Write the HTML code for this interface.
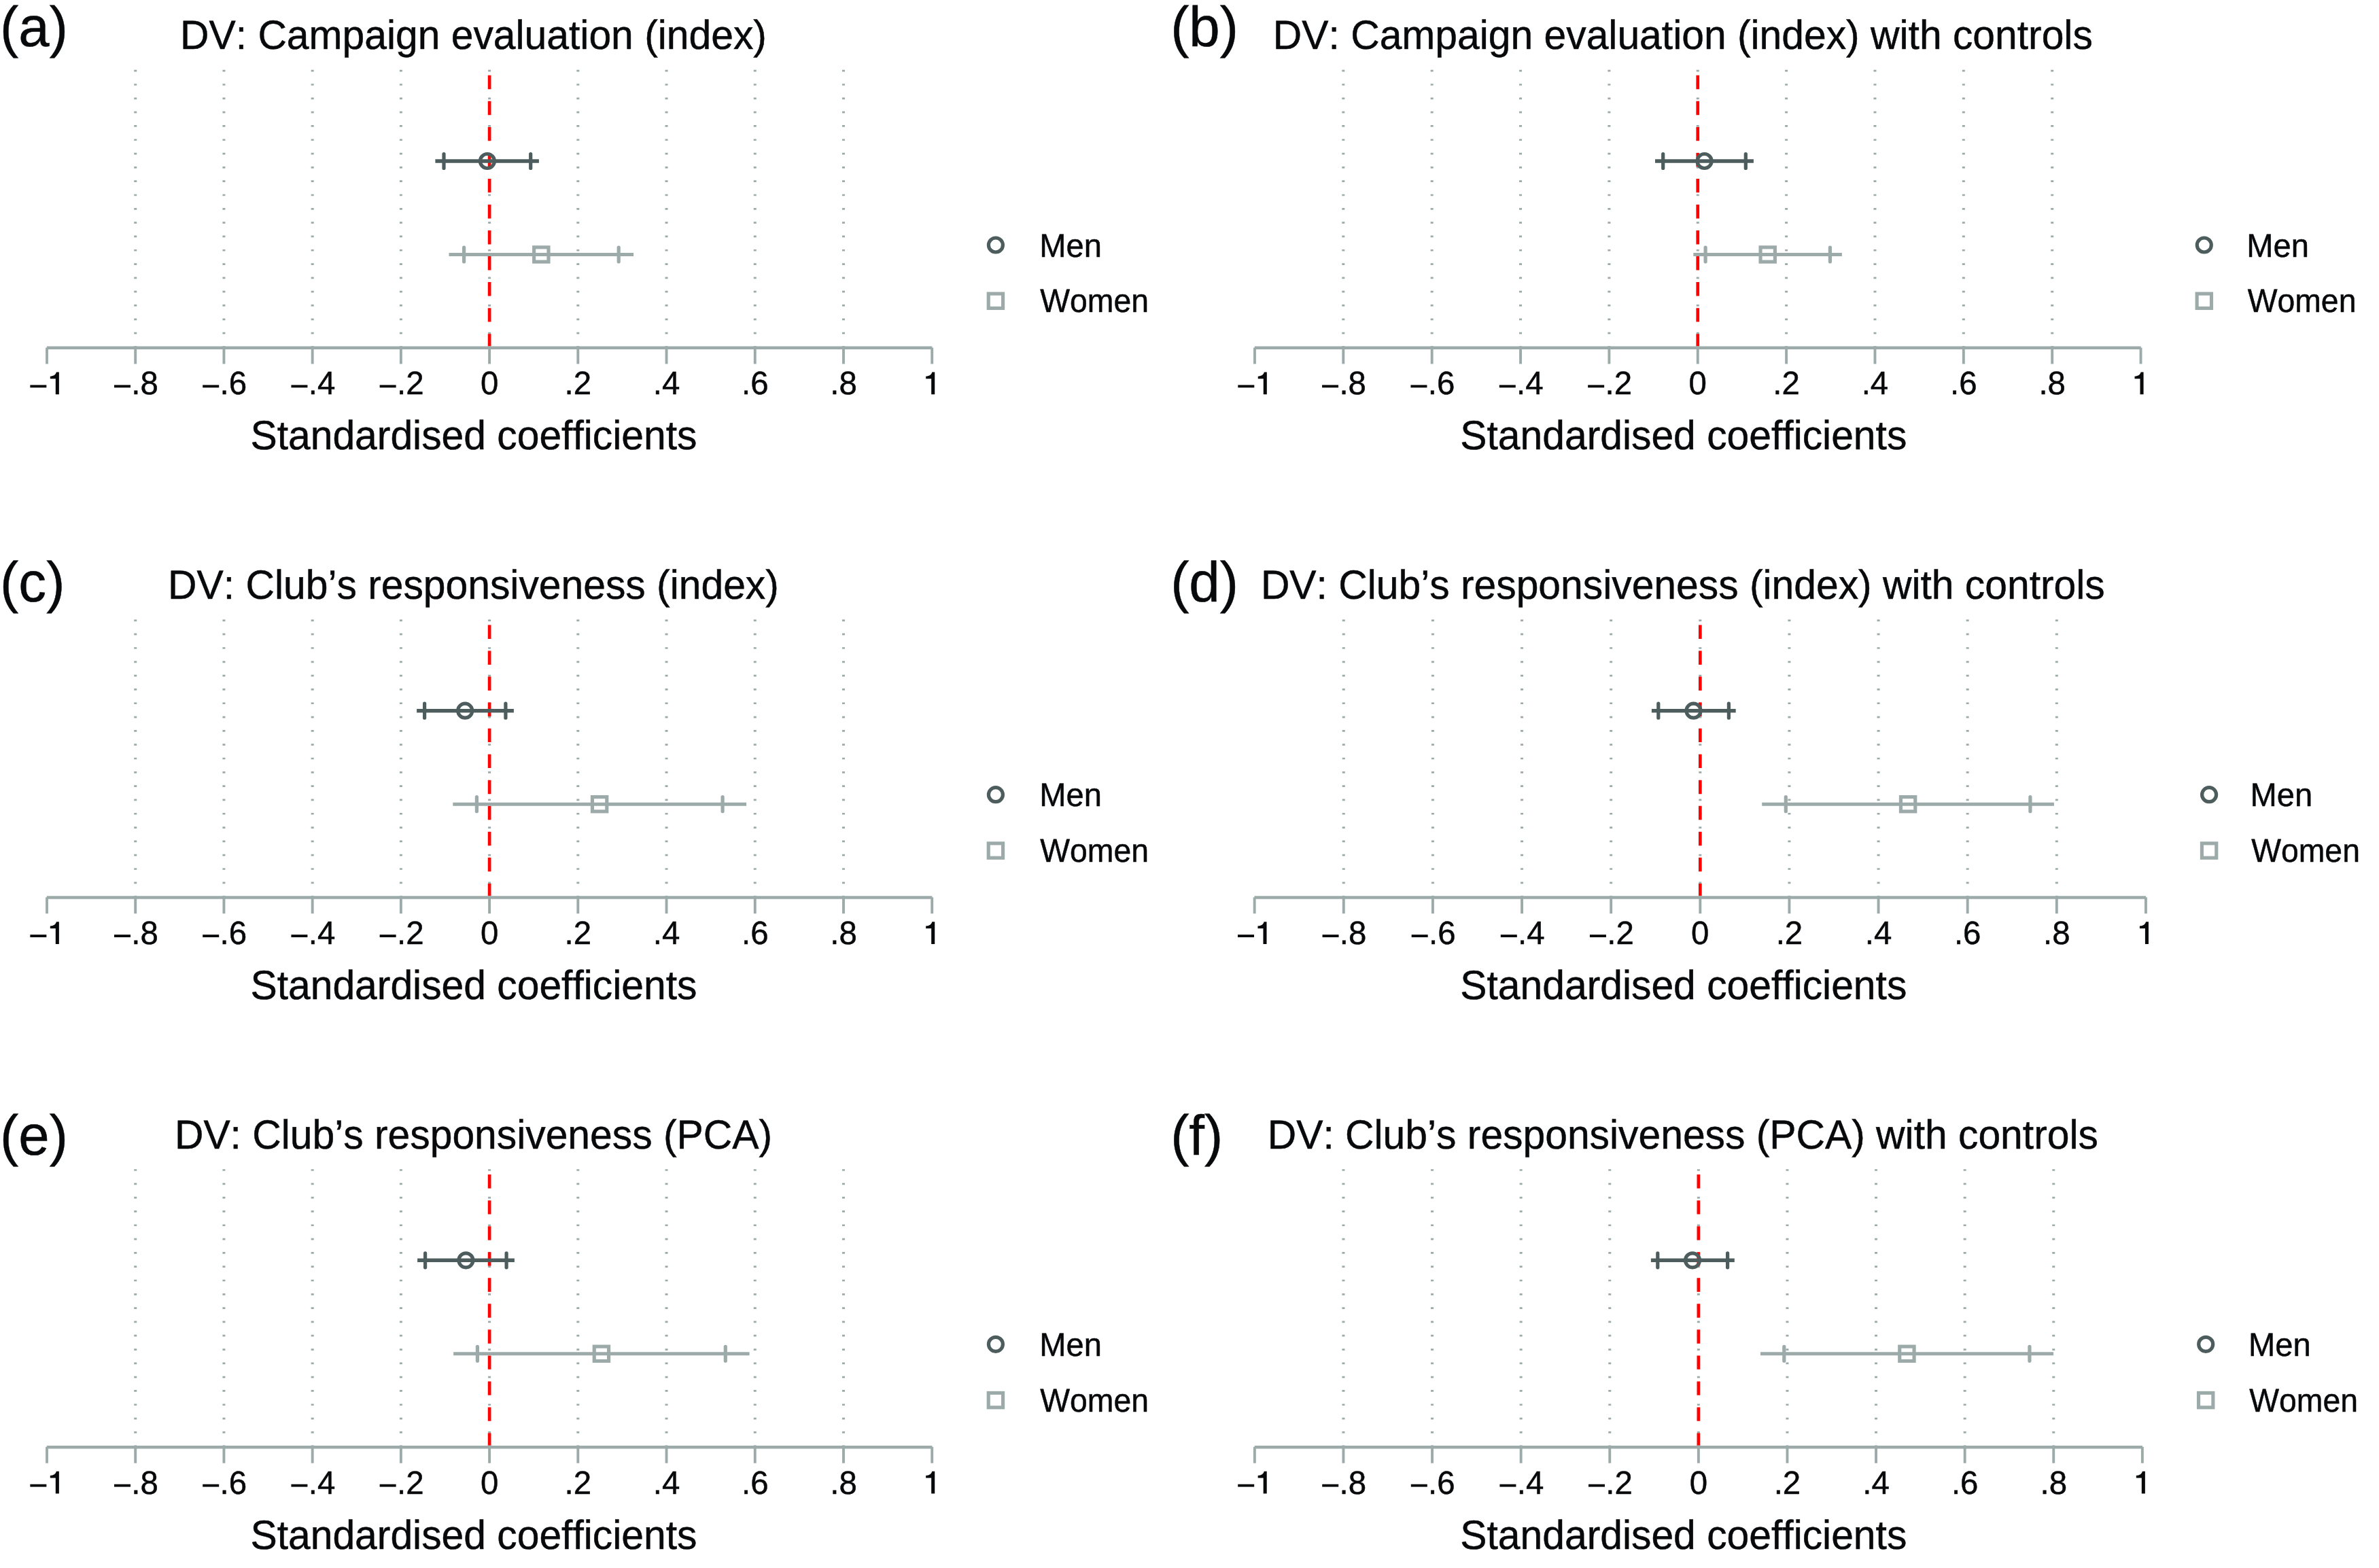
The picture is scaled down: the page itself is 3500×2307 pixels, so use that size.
<!DOCTYPE html>
<html lang="en"><head><meta charset="utf-8"><title>Standardised coefficients by gender</title>
<style>html,body{margin:0;padding:0;background:#fff}body{width:3500px;height:2307px;overflow:hidden}svg{display:block;will-change:opacity;opacity:.999;font-family:"Liberation Sans",sans-serif;font-kerning:none;font-variant-ligatures:none;text-rendering:geometricPrecision;fill:#08090b}text{stroke:#08090b;stroke-width:.5px}</style></head><body>
<svg width="3500" height="2307" viewBox="0 0 3500 2307" role="img" aria-label="Six coefficient plots of standardised coefficients for men and women">
<g><!-- panel (a) -->
<text transform="translate(0.12 68.2) scale(0.984 1)" font-size="83">(a)</text>
<text transform="translate(265.03 72.3) scale(0.98 1)" font-size="60">DV: Campaign evaluation (index)</text>
<line x1="199.22" y1="102.85" x2="199.22" y2="492" stroke="#9cabaa" stroke-width="4" stroke-dasharray="2.7 17.61"/>
<line x1="329.44" y1="102.85" x2="329.44" y2="492" stroke="#9cabaa" stroke-width="4" stroke-dasharray="2.7 17.61"/>
<line x1="459.66" y1="102.85" x2="459.66" y2="492" stroke="#9cabaa" stroke-width="4" stroke-dasharray="2.7 17.61"/>
<line x1="589.88" y1="102.85" x2="589.88" y2="492" stroke="#9cabaa" stroke-width="4" stroke-dasharray="2.7 17.61"/>
<line x1="720.1" y1="102.85" x2="720.1" y2="492" stroke="#9cabaa" stroke-width="4" stroke-dasharray="2.7 17.61"/>
<line x1="850.32" y1="102.85" x2="850.32" y2="492" stroke="#9cabaa" stroke-width="4" stroke-dasharray="2.7 17.61"/>
<line x1="980.54" y1="102.85" x2="980.54" y2="492" stroke="#9cabaa" stroke-width="4" stroke-dasharray="2.7 17.61"/>
<line x1="1110.76" y1="102.85" x2="1110.76" y2="492" stroke="#9cabaa" stroke-width="4" stroke-dasharray="2.7 17.61"/>
<line x1="1240.98" y1="102.85" x2="1240.98" y2="492" stroke="#9cabaa" stroke-width="4" stroke-dasharray="2.7 17.61"/>
<line x1="720.1" y1="110.8" x2="720.1" y2="509.6" stroke="#ff0000" stroke-width="4.7" stroke-dasharray="20.4 17.64"/>
<line x1="68.8" y1="511.85" x2="1371.4" y2="511.85" stroke="#9cabaa" stroke-width="4.5"/>
<line x1="69" y1="511.55" x2="69" y2="535.45" stroke="#9cabaa" stroke-width="3.9"/>
<line x1="199.22" y1="509.1" x2="199.22" y2="535.45" stroke="#9cabaa" stroke-width="3.9"/>
<line x1="329.44" y1="509.1" x2="329.44" y2="535.45" stroke="#9cabaa" stroke-width="3.9"/>
<line x1="459.66" y1="509.1" x2="459.66" y2="535.45" stroke="#9cabaa" stroke-width="3.9"/>
<line x1="589.88" y1="509.1" x2="589.88" y2="535.45" stroke="#9cabaa" stroke-width="3.9"/>
<line x1="720.1" y1="509.1" x2="720.1" y2="535.45" stroke="#9cabaa" stroke-width="3.9"/>
<line x1="850.32" y1="509.1" x2="850.32" y2="535.45" stroke="#9cabaa" stroke-width="3.9"/>
<line x1="980.54" y1="509.1" x2="980.54" y2="535.45" stroke="#9cabaa" stroke-width="3.9"/>
<line x1="1110.76" y1="509.1" x2="1110.76" y2="535.45" stroke="#9cabaa" stroke-width="3.9"/>
<line x1="1240.98" y1="509.1" x2="1240.98" y2="535.45" stroke="#9cabaa" stroke-width="3.9"/>
<line x1="1371.2" y1="511.55" x2="1371.2" y2="535.45" stroke="#9cabaa" stroke-width="3.9"/>
<rect x="44.35" y="566.43" width="24" height="3.86"/><path d="M86.86 547.5V580.3H81.81V557.3H73.81V553.7C79.16 553.3 81.96 551.5 82.86 547.5Z"/>
<rect x="167.98" y="566.43" width="24" height="3.86"/><text transform="translate(193.3 580.3) scale(0.9875 1)" font-size="48">.8</text>
<rect x="298.2" y="566.43" width="24" height="3.86"/><text transform="translate(323.51 580.3) scale(0.9875 1)" font-size="48">.6</text>
<rect x="428.42" y="566.43" width="24" height="3.86"/><text transform="translate(453.74 580.3) scale(0.9875 1)" font-size="48">.4</text>
<rect x="558.64" y="566.43" width="24" height="3.86"/><text transform="translate(583.96 580.3) scale(0.9875 1)" font-size="48">.2</text>
<text transform="translate(706.92 580.3) scale(0.9875 1)" font-size="48">0</text>
<text transform="translate(830.55 580.3) scale(0.9875 1)" font-size="48">.2</text>
<text transform="translate(960.77 580.3) scale(0.9875 1)" font-size="48">.4</text>
<text transform="translate(1090.99 580.3) scale(0.9875 1)" font-size="48">.6</text>
<text transform="translate(1221.21 580.3) scale(0.9875 1)" font-size="48">.8</text>
<path d="M1375.22 547.5V580.3H1370.17V557.3H1362.17V553.7C1367.52 553.3 1370.32 551.5 1371.22 547.5Z"/>
<text transform="translate(368.45 661.4) scale(0.98 1)" font-size="60">Standardised coefficients</text>
<line x1="640.4" y1="237" x2="792.9" y2="237" stroke="#4d5c5c" stroke-width="5.5"/>
<line x1="653" y1="226.5" x2="653" y2="247.5" stroke="#4d5c5c" stroke-width="5.2" stroke-linecap="round"/>
<line x1="780.7" y1="226.5" x2="780.7" y2="247.5" stroke="#4d5c5c" stroke-width="5.2" stroke-linecap="round"/>
<circle cx="716.9" cy="237" r="10.5" fill="none" stroke="#4d5c5c" stroke-width="5.2"/>
<line x1="660.5" y1="374.5" x2="932.1" y2="374.5" stroke="#9cabaa" stroke-width="5.1"/>
<line x1="682.6" y1="364" x2="682.6" y2="385" stroke="#9cabaa" stroke-width="5.2" stroke-linecap="round"/>
<line x1="910.2" y1="364" x2="910.2" y2="385" stroke="#9cabaa" stroke-width="5.2" stroke-linecap="round"/>
<rect x="785.63" y="363.83" width="21.35" height="21.35" fill="none" stroke="#9cabaa" stroke-width="5.15"/>
<circle cx="1464.9" cy="360.5" r="10.5" fill="none" stroke="#4d5c5c" stroke-width="5.2"/>
<rect x="1454.23" y="432.13" width="21.35" height="21.35" fill="none" stroke="#9cabaa" stroke-width="5.15"/>
<text transform="translate(1529.3 377.5) scale(0.972 1)" font-size="48.5">Men</text>
<text transform="translate(1530.3 459.2) scale(0.956 1)" font-size="48.5">Women</text>
</g>
<g><!-- panel (b) -->
<text transform="translate(1722.15 68.2) scale(0.984 1)" font-size="83">(b)</text>
<text transform="translate(1872.83 72.3) scale(0.98 1)" font-size="60">DV: Campaign evaluation (index) with controls</text>
<line x1="1976.31" y1="102.85" x2="1976.31" y2="492" stroke="#9cabaa" stroke-width="4" stroke-dasharray="2.7 17.61"/>
<line x1="2106.67" y1="102.85" x2="2106.67" y2="492" stroke="#9cabaa" stroke-width="4" stroke-dasharray="2.7 17.61"/>
<line x1="2237.03" y1="102.85" x2="2237.03" y2="492" stroke="#9cabaa" stroke-width="4" stroke-dasharray="2.7 17.61"/>
<line x1="2367.39" y1="102.85" x2="2367.39" y2="492" stroke="#9cabaa" stroke-width="4" stroke-dasharray="2.7 17.61"/>
<line x1="2497.75" y1="102.85" x2="2497.75" y2="492" stroke="#9cabaa" stroke-width="4" stroke-dasharray="2.7 17.61"/>
<line x1="2628.11" y1="102.85" x2="2628.11" y2="492" stroke="#9cabaa" stroke-width="4" stroke-dasharray="2.7 17.61"/>
<line x1="2758.47" y1="102.85" x2="2758.47" y2="492" stroke="#9cabaa" stroke-width="4" stroke-dasharray="2.7 17.61"/>
<line x1="2888.83" y1="102.85" x2="2888.83" y2="492" stroke="#9cabaa" stroke-width="4" stroke-dasharray="2.7 17.61"/>
<line x1="3019.19" y1="102.85" x2="3019.19" y2="492" stroke="#9cabaa" stroke-width="4" stroke-dasharray="2.7 17.61"/>
<line x1="2497.75" y1="110.8" x2="2497.75" y2="509.6" stroke="#ff0000" stroke-width="4.7" stroke-dasharray="20.4 17.64"/>
<line x1="1845.75" y1="511.85" x2="3149.75" y2="511.85" stroke="#9cabaa" stroke-width="4.5"/>
<line x1="1845.95" y1="511.55" x2="1845.95" y2="535.45" stroke="#9cabaa" stroke-width="3.9"/>
<line x1="1976.31" y1="509.1" x2="1976.31" y2="535.45" stroke="#9cabaa" stroke-width="3.9"/>
<line x1="2106.67" y1="509.1" x2="2106.67" y2="535.45" stroke="#9cabaa" stroke-width="3.9"/>
<line x1="2237.03" y1="509.1" x2="2237.03" y2="535.45" stroke="#9cabaa" stroke-width="3.9"/>
<line x1="2367.39" y1="509.1" x2="2367.39" y2="535.45" stroke="#9cabaa" stroke-width="3.9"/>
<line x1="2497.75" y1="509.1" x2="2497.75" y2="535.45" stroke="#9cabaa" stroke-width="3.9"/>
<line x1="2628.11" y1="509.1" x2="2628.11" y2="535.45" stroke="#9cabaa" stroke-width="3.9"/>
<line x1="2758.47" y1="509.1" x2="2758.47" y2="535.45" stroke="#9cabaa" stroke-width="3.9"/>
<line x1="2888.83" y1="509.1" x2="2888.83" y2="535.45" stroke="#9cabaa" stroke-width="3.9"/>
<line x1="3019.19" y1="509.1" x2="3019.19" y2="535.45" stroke="#9cabaa" stroke-width="3.9"/>
<line x1="3149.55" y1="511.55" x2="3149.55" y2="535.45" stroke="#9cabaa" stroke-width="3.9"/>
<rect x="1821.3" y="566.43" width="24" height="3.86"/><path d="M1863.81 547.5V580.3H1858.76V557.3H1850.76V553.7C1856.11 553.3 1858.91 551.5 1859.81 547.5Z"/>
<rect x="1945.07" y="566.43" width="24" height="3.86"/><text transform="translate(1970.38 580.3) scale(0.9875 1)" font-size="48">.8</text>
<rect x="2075.43" y="566.43" width="24" height="3.86"/><text transform="translate(2100.74 580.3) scale(0.9875 1)" font-size="48">.6</text>
<rect x="2205.79" y="566.43" width="24" height="3.86"/><text transform="translate(2231.11 580.3) scale(0.9875 1)" font-size="48">.4</text>
<rect x="2336.15" y="566.43" width="24" height="3.86"/><text transform="translate(2361.46 580.3) scale(0.9875 1)" font-size="48">.2</text>
<text transform="translate(2484.57 580.3) scale(0.9875 1)" font-size="48">0</text>
<text transform="translate(2608.34 580.3) scale(0.9875 1)" font-size="48">.2</text>
<text transform="translate(2738.7 580.3) scale(0.9875 1)" font-size="48">.4</text>
<text transform="translate(2869.06 580.3) scale(0.9875 1)" font-size="48">.6</text>
<text transform="translate(2999.42 580.3) scale(0.9875 1)" font-size="48">.8</text>
<path d="M3153.57 547.5V580.3H3148.52V557.3H3140.52V553.7C3145.87 553.3 3148.67 551.5 3149.57 547.5Z"/>
<text transform="translate(2148.3 661.4) scale(0.98 1)" font-size="60">Standardised coefficients</text>
<line x1="2435" y1="237" x2="2579.9" y2="237" stroke="#4d5c5c" stroke-width="5.5"/>
<line x1="2446.7" y1="226.5" x2="2446.7" y2="247.5" stroke="#4d5c5c" stroke-width="5.2" stroke-linecap="round"/>
<line x1="2568.3" y1="226.5" x2="2568.3" y2="247.5" stroke="#4d5c5c" stroke-width="5.2" stroke-linecap="round"/>
<circle cx="2507.6" cy="237" r="10.5" fill="none" stroke="#4d5c5c" stroke-width="5.2"/>
<line x1="2491.3" y1="374.5" x2="2709.9" y2="374.5" stroke="#9cabaa" stroke-width="5.1"/>
<line x1="2509.1" y1="364" x2="2509.1" y2="385" stroke="#9cabaa" stroke-width="5.2" stroke-linecap="round"/>
<line x1="2692.4" y1="364" x2="2692.4" y2="385" stroke="#9cabaa" stroke-width="5.2" stroke-linecap="round"/>
<rect x="2590.03" y="363.83" width="21.35" height="21.35" fill="none" stroke="#9cabaa" stroke-width="5.15"/>
<circle cx="3242.8" cy="360.5" r="10.5" fill="none" stroke="#4d5c5c" stroke-width="5.2"/>
<rect x="3232.13" y="432.13" width="21.35" height="21.35" fill="none" stroke="#9cabaa" stroke-width="5.15"/>
<text transform="translate(3305.2 377.5) scale(0.972 1)" font-size="48.5">Men</text>
<text transform="translate(3306.7 459.2) scale(0.956 1)" font-size="48.5">Women</text>
</g>
<g><!-- panel (c) -->
<text transform="translate(0.12 885.2) scale(0.984 1)" font-size="83">(c)</text>
<text transform="translate(247.1 881) scale(0.98 1)" font-size="60">DV: Club’s responsiveness (index)</text>
<line x1="199.22" y1="911.55" x2="199.22" y2="1300.7" stroke="#9cabaa" stroke-width="4" stroke-dasharray="2.7 17.61"/>
<line x1="329.44" y1="911.55" x2="329.44" y2="1300.7" stroke="#9cabaa" stroke-width="4" stroke-dasharray="2.7 17.61"/>
<line x1="459.66" y1="911.55" x2="459.66" y2="1300.7" stroke="#9cabaa" stroke-width="4" stroke-dasharray="2.7 17.61"/>
<line x1="589.88" y1="911.55" x2="589.88" y2="1300.7" stroke="#9cabaa" stroke-width="4" stroke-dasharray="2.7 17.61"/>
<line x1="720.1" y1="911.55" x2="720.1" y2="1300.7" stroke="#9cabaa" stroke-width="4" stroke-dasharray="2.7 17.61"/>
<line x1="850.32" y1="911.55" x2="850.32" y2="1300.7" stroke="#9cabaa" stroke-width="4" stroke-dasharray="2.7 17.61"/>
<line x1="980.54" y1="911.55" x2="980.54" y2="1300.7" stroke="#9cabaa" stroke-width="4" stroke-dasharray="2.7 17.61"/>
<line x1="1110.76" y1="911.55" x2="1110.76" y2="1300.7" stroke="#9cabaa" stroke-width="4" stroke-dasharray="2.7 17.61"/>
<line x1="1240.98" y1="911.55" x2="1240.98" y2="1300.7" stroke="#9cabaa" stroke-width="4" stroke-dasharray="2.7 17.61"/>
<line x1="720.1" y1="919.5" x2="720.1" y2="1318.3" stroke="#ff0000" stroke-width="4.7" stroke-dasharray="20.4 17.64"/>
<line x1="68.8" y1="1320.55" x2="1371.4" y2="1320.55" stroke="#9cabaa" stroke-width="4.5"/>
<line x1="69" y1="1320.25" x2="69" y2="1344.15" stroke="#9cabaa" stroke-width="3.9"/>
<line x1="199.22" y1="1317.8" x2="199.22" y2="1344.15" stroke="#9cabaa" stroke-width="3.9"/>
<line x1="329.44" y1="1317.8" x2="329.44" y2="1344.15" stroke="#9cabaa" stroke-width="3.9"/>
<line x1="459.66" y1="1317.8" x2="459.66" y2="1344.15" stroke="#9cabaa" stroke-width="3.9"/>
<line x1="589.88" y1="1317.8" x2="589.88" y2="1344.15" stroke="#9cabaa" stroke-width="3.9"/>
<line x1="720.1" y1="1317.8" x2="720.1" y2="1344.15" stroke="#9cabaa" stroke-width="3.9"/>
<line x1="850.32" y1="1317.8" x2="850.32" y2="1344.15" stroke="#9cabaa" stroke-width="3.9"/>
<line x1="980.54" y1="1317.8" x2="980.54" y2="1344.15" stroke="#9cabaa" stroke-width="3.9"/>
<line x1="1110.76" y1="1317.8" x2="1110.76" y2="1344.15" stroke="#9cabaa" stroke-width="3.9"/>
<line x1="1240.98" y1="1317.8" x2="1240.98" y2="1344.15" stroke="#9cabaa" stroke-width="3.9"/>
<line x1="1371.2" y1="1320.25" x2="1371.2" y2="1344.15" stroke="#9cabaa" stroke-width="3.9"/>
<rect x="44.35" y="1375.13" width="24" height="3.86"/><path d="M86.86 1356.2V1389H81.81V1366H73.81V1362.4C79.16 1362 81.96 1360.2 82.86 1356.2Z"/>
<rect x="167.98" y="1375.13" width="24" height="3.86"/><text transform="translate(193.3 1389) scale(0.9875 1)" font-size="48">.8</text>
<rect x="298.2" y="1375.13" width="24" height="3.86"/><text transform="translate(323.51 1389) scale(0.9875 1)" font-size="48">.6</text>
<rect x="428.42" y="1375.13" width="24" height="3.86"/><text transform="translate(453.74 1389) scale(0.9875 1)" font-size="48">.4</text>
<rect x="558.64" y="1375.13" width="24" height="3.86"/><text transform="translate(583.96 1389) scale(0.9875 1)" font-size="48">.2</text>
<text transform="translate(706.92 1389) scale(0.9875 1)" font-size="48">0</text>
<text transform="translate(830.55 1389) scale(0.9875 1)" font-size="48">.2</text>
<text transform="translate(960.77 1389) scale(0.9875 1)" font-size="48">.4</text>
<text transform="translate(1090.99 1389) scale(0.9875 1)" font-size="48">.6</text>
<text transform="translate(1221.21 1389) scale(0.9875 1)" font-size="48">.8</text>
<path d="M1375.22 1356.2V1389H1370.17V1366H1362.17V1362.4C1367.52 1362 1370.32 1360.2 1371.22 1356.2Z"/>
<text transform="translate(368.45 1470.1) scale(0.98 1)" font-size="60">Standardised coefficients</text>
<line x1="613.1" y1="1045.7" x2="755.9" y2="1045.7" stroke="#4d5c5c" stroke-width="5.5"/>
<line x1="624.6" y1="1035.2" x2="624.6" y2="1056.2" stroke="#4d5c5c" stroke-width="5.2" stroke-linecap="round"/>
<line x1="743.9" y1="1035.2" x2="743.9" y2="1056.2" stroke="#4d5c5c" stroke-width="5.2" stroke-linecap="round"/>
<circle cx="684.2" cy="1045.7" r="10.5" fill="none" stroke="#4d5c5c" stroke-width="5.2"/>
<line x1="666.3" y1="1183.2" x2="1098.1" y2="1183.2" stroke="#9cabaa" stroke-width="5.1"/>
<line x1="701.4" y1="1172.7" x2="701.4" y2="1193.7" stroke="#9cabaa" stroke-width="5.2" stroke-linecap="round"/>
<line x1="1063.1" y1="1172.7" x2="1063.1" y2="1193.7" stroke="#9cabaa" stroke-width="5.2" stroke-linecap="round"/>
<rect x="871.43" y="1172.53" width="21.35" height="21.35" fill="none" stroke="#9cabaa" stroke-width="5.15"/>
<circle cx="1464.9" cy="1169.2" r="10.5" fill="none" stroke="#4d5c5c" stroke-width="5.2"/>
<rect x="1454.23" y="1240.83" width="21.35" height="21.35" fill="none" stroke="#9cabaa" stroke-width="5.15"/>
<text transform="translate(1529.3 1186.2) scale(0.972 1)" font-size="48.5">Men</text>
<text transform="translate(1530.3 1267.9) scale(0.956 1)" font-size="48.5">Women</text>
</g>
<g><!-- panel (d) -->
<text transform="translate(1722.15 885.2) scale(0.984 1)" font-size="83">(d)</text>
<text transform="translate(1854.9 881) scale(0.98 1)" font-size="60">DV: Club’s responsiveness (index) with controls</text>
<line x1="1976.78" y1="911.55" x2="1976.78" y2="1300.7" stroke="#9cabaa" stroke-width="4" stroke-dasharray="2.7 17.61"/>
<line x1="2107.91" y1="911.55" x2="2107.91" y2="1300.7" stroke="#9cabaa" stroke-width="4" stroke-dasharray="2.7 17.61"/>
<line x1="2239.04" y1="911.55" x2="2239.04" y2="1300.7" stroke="#9cabaa" stroke-width="4" stroke-dasharray="2.7 17.61"/>
<line x1="2370.17" y1="911.55" x2="2370.17" y2="1300.7" stroke="#9cabaa" stroke-width="4" stroke-dasharray="2.7 17.61"/>
<line x1="2501.3" y1="911.55" x2="2501.3" y2="1300.7" stroke="#9cabaa" stroke-width="4" stroke-dasharray="2.7 17.61"/>
<line x1="2632.43" y1="911.55" x2="2632.43" y2="1300.7" stroke="#9cabaa" stroke-width="4" stroke-dasharray="2.7 17.61"/>
<line x1="2763.56" y1="911.55" x2="2763.56" y2="1300.7" stroke="#9cabaa" stroke-width="4" stroke-dasharray="2.7 17.61"/>
<line x1="2894.69" y1="911.55" x2="2894.69" y2="1300.7" stroke="#9cabaa" stroke-width="4" stroke-dasharray="2.7 17.61"/>
<line x1="3025.82" y1="911.55" x2="3025.82" y2="1300.7" stroke="#9cabaa" stroke-width="4" stroke-dasharray="2.7 17.61"/>
<line x1="2501.3" y1="919.5" x2="2501.3" y2="1318.3" stroke="#ff0000" stroke-width="4.7" stroke-dasharray="20.4 17.64"/>
<line x1="1845.45" y1="1320.55" x2="3157.15" y2="1320.55" stroke="#9cabaa" stroke-width="4.5"/>
<line x1="1845.65" y1="1320.25" x2="1845.65" y2="1344.15" stroke="#9cabaa" stroke-width="3.9"/>
<line x1="1976.78" y1="1317.8" x2="1976.78" y2="1344.15" stroke="#9cabaa" stroke-width="3.9"/>
<line x1="2107.91" y1="1317.8" x2="2107.91" y2="1344.15" stroke="#9cabaa" stroke-width="3.9"/>
<line x1="2239.04" y1="1317.8" x2="2239.04" y2="1344.15" stroke="#9cabaa" stroke-width="3.9"/>
<line x1="2370.17" y1="1317.8" x2="2370.17" y2="1344.15" stroke="#9cabaa" stroke-width="3.9"/>
<line x1="2501.3" y1="1317.8" x2="2501.3" y2="1344.15" stroke="#9cabaa" stroke-width="3.9"/>
<line x1="2632.43" y1="1317.8" x2="2632.43" y2="1344.15" stroke="#9cabaa" stroke-width="3.9"/>
<line x1="2763.56" y1="1317.8" x2="2763.56" y2="1344.15" stroke="#9cabaa" stroke-width="3.9"/>
<line x1="2894.69" y1="1317.8" x2="2894.69" y2="1344.15" stroke="#9cabaa" stroke-width="3.9"/>
<line x1="3025.82" y1="1317.8" x2="3025.82" y2="1344.15" stroke="#9cabaa" stroke-width="3.9"/>
<line x1="3156.95" y1="1320.25" x2="3156.95" y2="1344.15" stroke="#9cabaa" stroke-width="3.9"/>
<rect x="1821" y="1375.13" width="24" height="3.86"/><path d="M1863.51 1356.2V1389H1858.46V1366H1850.46V1362.4C1855.81 1362 1858.61 1360.2 1859.51 1356.2Z"/>
<rect x="1945.54" y="1375.13" width="24" height="3.86"/><text transform="translate(1970.86 1389) scale(0.9875 1)" font-size="48">.8</text>
<rect x="2076.67" y="1375.13" width="24" height="3.86"/><text transform="translate(2101.99 1389) scale(0.9875 1)" font-size="48">.6</text>
<rect x="2207.8" y="1375.13" width="24" height="3.86"/><text transform="translate(2233.11 1389) scale(0.9875 1)" font-size="48">.4</text>
<rect x="2338.93" y="1375.13" width="24" height="3.86"/><text transform="translate(2364.24 1389) scale(0.9875 1)" font-size="48">.2</text>
<text transform="translate(2488.12 1389) scale(0.9875 1)" font-size="48">0</text>
<text transform="translate(2612.66 1389) scale(0.9875 1)" font-size="48">.2</text>
<text transform="translate(2743.79 1389) scale(0.9875 1)" font-size="48">.4</text>
<text transform="translate(2874.92 1389) scale(0.9875 1)" font-size="48">.6</text>
<text transform="translate(3006.05 1389) scale(0.9875 1)" font-size="48">.8</text>
<path d="M3160.97 1356.2V1389H3155.92V1366H3147.92V1362.4C3153.27 1362 3156.07 1360.2 3156.97 1356.2Z"/>
<text transform="translate(2148.3 1470.1) scale(0.98 1)" font-size="60">Standardised coefficients</text>
<line x1="2429.9" y1="1045.7" x2="2553.7" y2="1045.7" stroke="#4d5c5c" stroke-width="5.5"/>
<line x1="2439.8" y1="1035.2" x2="2439.8" y2="1056.2" stroke="#4d5c5c" stroke-width="5.2" stroke-linecap="round"/>
<line x1="2543.4" y1="1035.2" x2="2543.4" y2="1056.2" stroke="#4d5c5c" stroke-width="5.2" stroke-linecap="round"/>
<circle cx="2491.5" cy="1045.7" r="10.5" fill="none" stroke="#4d5c5c" stroke-width="5.2"/>
<line x1="2592.2" y1="1183.2" x2="3021.9" y2="1183.2" stroke="#9cabaa" stroke-width="5.1"/>
<line x1="2627.3" y1="1172.7" x2="2627.3" y2="1193.7" stroke="#9cabaa" stroke-width="5.2" stroke-linecap="round"/>
<line x1="2986.9" y1="1172.7" x2="2986.9" y2="1193.7" stroke="#9cabaa" stroke-width="5.2" stroke-linecap="round"/>
<rect x="2796.43" y="1172.53" width="21.35" height="21.35" fill="none" stroke="#9cabaa" stroke-width="5.15"/>
<circle cx="3250.1" cy="1169.2" r="10.5" fill="none" stroke="#4d5c5c" stroke-width="5.2"/>
<rect x="3239.43" y="1240.83" width="21.35" height="21.35" fill="none" stroke="#9cabaa" stroke-width="5.15"/>
<text transform="translate(3310.6 1186.2) scale(0.972 1)" font-size="48.5">Men</text>
<text transform="translate(3312.2 1267.9) scale(0.956 1)" font-size="48.5">Women</text>
</g>
<g><!-- panel (e) -->
<text transform="translate(0.12 1699.1) scale(0.984 1)" font-size="83">(e)</text>
<text transform="translate(256.93 1689.6) scale(0.98 1)" font-size="60">DV: Club’s responsiveness (PCA)</text>
<line x1="199.22" y1="1720.15" x2="199.22" y2="2109.3" stroke="#9cabaa" stroke-width="4" stroke-dasharray="2.7 17.61"/>
<line x1="329.44" y1="1720.15" x2="329.44" y2="2109.3" stroke="#9cabaa" stroke-width="4" stroke-dasharray="2.7 17.61"/>
<line x1="459.66" y1="1720.15" x2="459.66" y2="2109.3" stroke="#9cabaa" stroke-width="4" stroke-dasharray="2.7 17.61"/>
<line x1="589.88" y1="1720.15" x2="589.88" y2="2109.3" stroke="#9cabaa" stroke-width="4" stroke-dasharray="2.7 17.61"/>
<line x1="720.1" y1="1720.15" x2="720.1" y2="2109.3" stroke="#9cabaa" stroke-width="4" stroke-dasharray="2.7 17.61"/>
<line x1="850.32" y1="1720.15" x2="850.32" y2="2109.3" stroke="#9cabaa" stroke-width="4" stroke-dasharray="2.7 17.61"/>
<line x1="980.54" y1="1720.15" x2="980.54" y2="2109.3" stroke="#9cabaa" stroke-width="4" stroke-dasharray="2.7 17.61"/>
<line x1="1110.76" y1="1720.15" x2="1110.76" y2="2109.3" stroke="#9cabaa" stroke-width="4" stroke-dasharray="2.7 17.61"/>
<line x1="1240.98" y1="1720.15" x2="1240.98" y2="2109.3" stroke="#9cabaa" stroke-width="4" stroke-dasharray="2.7 17.61"/>
<line x1="720.1" y1="1728.1" x2="720.1" y2="2126.9" stroke="#ff0000" stroke-width="4.7" stroke-dasharray="20.4 17.64"/>
<line x1="68.8" y1="2129.15" x2="1371.4" y2="2129.15" stroke="#9cabaa" stroke-width="4.5"/>
<line x1="69" y1="2128.85" x2="69" y2="2152.75" stroke="#9cabaa" stroke-width="3.9"/>
<line x1="199.22" y1="2126.4" x2="199.22" y2="2152.75" stroke="#9cabaa" stroke-width="3.9"/>
<line x1="329.44" y1="2126.4" x2="329.44" y2="2152.75" stroke="#9cabaa" stroke-width="3.9"/>
<line x1="459.66" y1="2126.4" x2="459.66" y2="2152.75" stroke="#9cabaa" stroke-width="3.9"/>
<line x1="589.88" y1="2126.4" x2="589.88" y2="2152.75" stroke="#9cabaa" stroke-width="3.9"/>
<line x1="720.1" y1="2126.4" x2="720.1" y2="2152.75" stroke="#9cabaa" stroke-width="3.9"/>
<line x1="850.32" y1="2126.4" x2="850.32" y2="2152.75" stroke="#9cabaa" stroke-width="3.9"/>
<line x1="980.54" y1="2126.4" x2="980.54" y2="2152.75" stroke="#9cabaa" stroke-width="3.9"/>
<line x1="1110.76" y1="2126.4" x2="1110.76" y2="2152.75" stroke="#9cabaa" stroke-width="3.9"/>
<line x1="1240.98" y1="2126.4" x2="1240.98" y2="2152.75" stroke="#9cabaa" stroke-width="3.9"/>
<line x1="1371.2" y1="2128.85" x2="1371.2" y2="2152.75" stroke="#9cabaa" stroke-width="3.9"/>
<rect x="44.35" y="2183.73" width="24" height="3.86"/><path d="M86.86 2164.8V2197.6H81.81V2174.6H73.81V2171C79.16 2170.6 81.96 2168.8 82.86 2164.8Z"/>
<rect x="167.98" y="2183.73" width="24" height="3.86"/><text transform="translate(193.3 2197.6) scale(0.9875 1)" font-size="48">.8</text>
<rect x="298.2" y="2183.73" width="24" height="3.86"/><text transform="translate(323.51 2197.6) scale(0.9875 1)" font-size="48">.6</text>
<rect x="428.42" y="2183.73" width="24" height="3.86"/><text transform="translate(453.74 2197.6) scale(0.9875 1)" font-size="48">.4</text>
<rect x="558.64" y="2183.73" width="24" height="3.86"/><text transform="translate(583.96 2197.6) scale(0.9875 1)" font-size="48">.2</text>
<text transform="translate(706.92 2197.6) scale(0.9875 1)" font-size="48">0</text>
<text transform="translate(830.55 2197.6) scale(0.9875 1)" font-size="48">.2</text>
<text transform="translate(960.77 2197.6) scale(0.9875 1)" font-size="48">.4</text>
<text transform="translate(1090.99 2197.6) scale(0.9875 1)" font-size="48">.6</text>
<text transform="translate(1221.21 2197.6) scale(0.9875 1)" font-size="48">.8</text>
<path d="M1375.22 2164.8V2197.6H1370.17V2174.6H1362.17V2171C1367.52 2170.6 1370.32 2168.8 1371.22 2164.8Z"/>
<text transform="translate(368.45 2278.7) scale(0.98 1)" font-size="60">Standardised coefficients</text>
<line x1="614.1" y1="1854.3" x2="756.9" y2="1854.3" stroke="#4d5c5c" stroke-width="5.5"/>
<line x1="625.6" y1="1843.8" x2="625.6" y2="1864.8" stroke="#4d5c5c" stroke-width="5.2" stroke-linecap="round"/>
<line x1="745.1" y1="1843.8" x2="745.1" y2="1864.8" stroke="#4d5c5c" stroke-width="5.2" stroke-linecap="round"/>
<circle cx="685.4" cy="1854.3" r="10.5" fill="none" stroke="#4d5c5c" stroke-width="5.2"/>
<line x1="667.1" y1="1991.8" x2="1102.6" y2="1991.8" stroke="#9cabaa" stroke-width="5.1"/>
<line x1="702.4" y1="1981.3" x2="702.4" y2="2002.3" stroke="#9cabaa" stroke-width="5.2" stroke-linecap="round"/>
<line x1="1067.3" y1="1981.3" x2="1067.3" y2="2002.3" stroke="#9cabaa" stroke-width="5.2" stroke-linecap="round"/>
<rect x="874.23" y="1981.13" width="21.35" height="21.35" fill="none" stroke="#9cabaa" stroke-width="5.15"/>
<circle cx="1464.9" cy="1977.8" r="10.5" fill="none" stroke="#4d5c5c" stroke-width="5.2"/>
<rect x="1454.23" y="2049.43" width="21.35" height="21.35" fill="none" stroke="#9cabaa" stroke-width="5.15"/>
<text transform="translate(1529.3 1994.8) scale(0.972 1)" font-size="48.5">Men</text>
<text transform="translate(1530.3 2076.5) scale(0.956 1)" font-size="48.5">Women</text>
</g>
<g><!-- panel (f) -->
<text transform="translate(1722.15 1699.1) scale(0.984 1)" font-size="83">(f)</text>
<text transform="translate(1864.74 1689.6) scale(0.98 1)" font-size="60">DV: Club’s responsiveness (PCA) with controls</text>
<line x1="1976.45" y1="1720.15" x2="1976.45" y2="2109.3" stroke="#9cabaa" stroke-width="4" stroke-dasharray="2.7 17.61"/>
<line x1="2107.05" y1="1720.15" x2="2107.05" y2="2109.3" stroke="#9cabaa" stroke-width="4" stroke-dasharray="2.7 17.61"/>
<line x1="2237.65" y1="1720.15" x2="2237.65" y2="2109.3" stroke="#9cabaa" stroke-width="4" stroke-dasharray="2.7 17.61"/>
<line x1="2368.25" y1="1720.15" x2="2368.25" y2="2109.3" stroke="#9cabaa" stroke-width="4" stroke-dasharray="2.7 17.61"/>
<line x1="2498.85" y1="1720.15" x2="2498.85" y2="2109.3" stroke="#9cabaa" stroke-width="4" stroke-dasharray="2.7 17.61"/>
<line x1="2629.45" y1="1720.15" x2="2629.45" y2="2109.3" stroke="#9cabaa" stroke-width="4" stroke-dasharray="2.7 17.61"/>
<line x1="2760.05" y1="1720.15" x2="2760.05" y2="2109.3" stroke="#9cabaa" stroke-width="4" stroke-dasharray="2.7 17.61"/>
<line x1="2890.65" y1="1720.15" x2="2890.65" y2="2109.3" stroke="#9cabaa" stroke-width="4" stroke-dasharray="2.7 17.61"/>
<line x1="3021.25" y1="1720.15" x2="3021.25" y2="2109.3" stroke="#9cabaa" stroke-width="4" stroke-dasharray="2.7 17.61"/>
<line x1="2498.85" y1="1728.1" x2="2498.85" y2="2126.9" stroke="#ff0000" stroke-width="4.7" stroke-dasharray="20.4 17.64"/>
<line x1="1845.65" y1="2129.15" x2="3152.05" y2="2129.15" stroke="#9cabaa" stroke-width="4.5"/>
<line x1="1845.85" y1="2128.85" x2="1845.85" y2="2152.75" stroke="#9cabaa" stroke-width="3.9"/>
<line x1="1976.45" y1="2126.4" x2="1976.45" y2="2152.75" stroke="#9cabaa" stroke-width="3.9"/>
<line x1="2107.05" y1="2126.4" x2="2107.05" y2="2152.75" stroke="#9cabaa" stroke-width="3.9"/>
<line x1="2237.65" y1="2126.4" x2="2237.65" y2="2152.75" stroke="#9cabaa" stroke-width="3.9"/>
<line x1="2368.25" y1="2126.4" x2="2368.25" y2="2152.75" stroke="#9cabaa" stroke-width="3.9"/>
<line x1="2498.85" y1="2126.4" x2="2498.85" y2="2152.75" stroke="#9cabaa" stroke-width="3.9"/>
<line x1="2629.45" y1="2126.4" x2="2629.45" y2="2152.75" stroke="#9cabaa" stroke-width="3.9"/>
<line x1="2760.05" y1="2126.4" x2="2760.05" y2="2152.75" stroke="#9cabaa" stroke-width="3.9"/>
<line x1="2890.65" y1="2126.4" x2="2890.65" y2="2152.75" stroke="#9cabaa" stroke-width="3.9"/>
<line x1="3021.25" y1="2126.4" x2="3021.25" y2="2152.75" stroke="#9cabaa" stroke-width="3.9"/>
<line x1="3151.85" y1="2128.85" x2="3151.85" y2="2152.75" stroke="#9cabaa" stroke-width="3.9"/>
<rect x="1821.2" y="2183.73" width="24" height="3.86"/><path d="M1863.71 2164.8V2197.6H1858.66V2174.6H1850.66V2171C1856.01 2170.6 1858.81 2168.8 1859.71 2164.8Z"/>
<rect x="1945.21" y="2183.73" width="24" height="3.86"/><text transform="translate(1970.52 2197.6) scale(0.9875 1)" font-size="48">.8</text>
<rect x="2075.81" y="2183.73" width="24" height="3.86"/><text transform="translate(2101.12 2197.6) scale(0.9875 1)" font-size="48">.6</text>
<rect x="2206.41" y="2183.73" width="24" height="3.86"/><text transform="translate(2231.72 2197.6) scale(0.9875 1)" font-size="48">.4</text>
<rect x="2337.01" y="2183.73" width="24" height="3.86"/><text transform="translate(2362.32 2197.6) scale(0.9875 1)" font-size="48">.2</text>
<text transform="translate(2485.67 2197.6) scale(0.9875 1)" font-size="48">0</text>
<text transform="translate(2609.68 2197.6) scale(0.9875 1)" font-size="48">.2</text>
<text transform="translate(2740.28 2197.6) scale(0.9875 1)" font-size="48">.4</text>
<text transform="translate(2870.88 2197.6) scale(0.9875 1)" font-size="48">.6</text>
<text transform="translate(3001.48 2197.6) scale(0.9875 1)" font-size="48">.8</text>
<path d="M3155.87 2164.8V2197.6H3150.82V2174.6H3142.82V2171C3148.17 2170.6 3150.97 2168.8 3151.87 2164.8Z"/>
<text transform="translate(2148.3 2278.7) scale(0.98 1)" font-size="60">Standardised coefficients</text>
<line x1="2428.9" y1="1854.3" x2="2551.8" y2="1854.3" stroke="#4d5c5c" stroke-width="5.5"/>
<line x1="2438.8" y1="1843.8" x2="2438.8" y2="1864.8" stroke="#4d5c5c" stroke-width="5.2" stroke-linecap="round"/>
<line x1="2541.6" y1="1843.8" x2="2541.6" y2="1864.8" stroke="#4d5c5c" stroke-width="5.2" stroke-linecap="round"/>
<circle cx="2490" cy="1854.3" r="10.5" fill="none" stroke="#4d5c5c" stroke-width="5.2"/>
<line x1="2590" y1="1991.8" x2="3021.1" y2="1991.8" stroke="#9cabaa" stroke-width="5.1"/>
<line x1="2624.8" y1="1981.3" x2="2624.8" y2="2002.3" stroke="#9cabaa" stroke-width="5.2" stroke-linecap="round"/>
<line x1="2985.9" y1="1981.3" x2="2985.9" y2="2002.3" stroke="#9cabaa" stroke-width="5.2" stroke-linecap="round"/>
<rect x="2794.73" y="1981.13" width="21.35" height="21.35" fill="none" stroke="#9cabaa" stroke-width="5.15"/>
<circle cx="3245.2" cy="1977.8" r="10.5" fill="none" stroke="#4d5c5c" stroke-width="5.2"/>
<rect x="3234.53" y="2049.43" width="21.35" height="21.35" fill="none" stroke="#9cabaa" stroke-width="5.15"/>
<text transform="translate(3308.1 1994.8) scale(0.972 1)" font-size="48.5">Men</text>
<text transform="translate(3309.3 2076.5) scale(0.956 1)" font-size="48.5">Women</text>
</g>
</svg></body></html>
